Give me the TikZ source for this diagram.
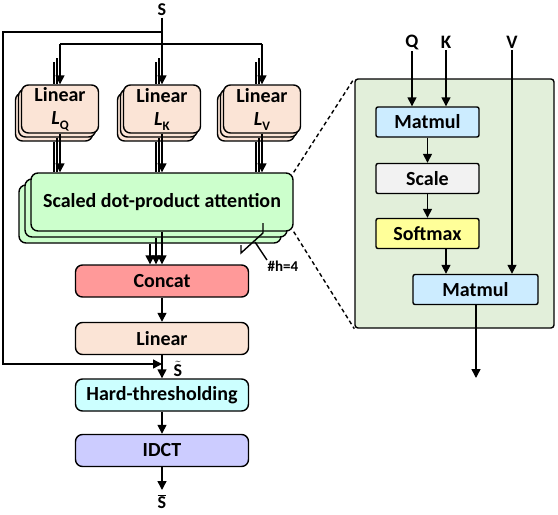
\documentclass[tikz,border=0pt]{standalone}
\usepackage{fontspec}
\setmainfont{Carlito}
\usetikzlibrary{positioning, calc, arrows.meta}

\definecolor{peach}{RGB}{251,228,214}
\definecolor{mint}{RGB}{204,255,204}
\definecolor{salmon}{RGB}{255,153,153}
\definecolor{aqua}{RGB}{204,255,255}
\definecolor{lilac}{RGB}{204,204,255}
\definecolor{sage}{RGB}{226,239,218}
\definecolor{skyblue}{RGB}{204,236,255}
\definecolor{paleg}{RGB}{242,242,242}
\definecolor{lemon}{RGB}{255,255,153}

\newcommand{\bigf}{\fontsize{20}{23}\selectfont\bfseries}
\newcommand{\lsub}[1]{\textit{L}\raisebox{-0.25em}{\fontsize{13}{13}\selectfont #1}}

\tikzset{
  box/.style={draw, rounded corners=7pt, minimum width=173pt, minimum height=32pt, inner sep=0pt, font=\bigf},
  linbox/.style={box, fill=peach, minimum width=77pt, minimum height=48pt, align=center},
  attbox/.style={box, fill=mint, minimum width=262pt, minimum height=58pt},
  opbox/.style={box, rounded corners=2pt, minimum width=103pt, minimum height=30pt},
  lbl/.style={font=\fontsize{18}{18}\selectfont\bfseries, inner sep=1pt},
}

\begin{document}
\begin{tikzpicture}[x=1pt, y=-1pt, line width=1.4pt, >={Triangle[length=9pt,width=9pt]}]
\useasboundingbox (0,0) rectangle (558,515);

% multi-head attention
\node (s) [lbl] at (162,10) {S};
\coordinate (sp) at (162,32);
\coordinate (br) at (162,44);
\coordinate (fb) at (3,364);

\foreach \n/\x/\c in {lq/60/Q, lk/162/K, lv/262/V} {
  \node (\n3) [linbox] at (\x-6,117) {};
  \node (\n2) [linbox] at (\x-3,113) {};
  \node (\n) [linbox] at (\x,109) {Linear\\\lsub{\c}};
}

\node (att3) [attbox] at (150,214) {};
\node (att2) [attbox] at (156,208) {};
\node (att) [attbox] at (162,202) {Scaled dot-product attention};

\node (concat) [box, fill=salmon] at (162,281) {Concat};
\node (lin) [box, fill=peach] at (162,338.5) {Linear};
\node (hard) [box, fill=aqua] at (162,395) {Hard-thresholding};
\node (idct) [box, fill=lilac] at (162,450.5) {IDCT};
\coordinate (out1) at (162,490);
\node (sbar) [lbl] at (162,502) {$\overline{\mbox{S}}$};
\node (stil) [lbl] at (178,369) {$\tilde{\mbox{S}}$};

\draw (s) -- (br);
\draw[->] (sp) -| (fb) -- (fb -| lin.south);
\draw (br -| lq.north) -- (br -| lv.north);
\foreach \n in {lq,lk,lv} {
  \draw[->] (br -| \n.north) -- (\n.north);
  \draw ($(\n2.north)+(0,-30)$) -- (\n2.north |- \n.north);
  \draw ($(\n3.north)+(0,-30)$) -- (\n3.north |- \n.north);
  \draw[->] (\n.south) -- (\n.south |- att.north);
  \draw (\n2.south) -- (\n2.south |- att.north);
  \draw (\n3.south) -- (\n3.south |- att.north);
}
\draw[->] (att.south) -- (att.south |- concat.north);
\draw[->] (att2.south) -- (att2.south |- concat.north);
\draw[->] (att3.south) -- (att3.south |- concat.north);
\draw[->] (concat) -- (lin);
\draw[->] (lin) -- (hard);
\draw[->] (hard) -- (idct);
\draw[->] (idct) -- (out1);

% number of heads
\node (nh) [font=\fontsize{15}{15}\selectfont\bfseries, inner sep=0pt] at (283,266) {\#h=4};
\coordinate (t1) at (263,223);
\coordinate (t2) at (263,233);
\coordinate (t3) at (241,253);
\coordinate (t4) at (241,245);
\coordinate (ld) at (255,242);
\draw (t1) -- (t2) -- (t3) -- (t4);
\draw (ld) -- (nh.north west);

% scaled dot-product attention
\node (sdpa) [draw, fill=sage, rounded corners=3pt, minimum width=199pt, minimum height=249pt] at (454.5,203.5) {};
\node (mm1) [opbox, fill=skyblue] at (427.5,122) {Matmul};
\node (scale) [opbox, fill=paleg] at (427.5,178.5) {Scale};
\node (smax) [opbox, fill=lemon] at (427.5,233.5) {Softmax};
\node (mm2) [opbox, fill=skyblue, minimum width=125pt] at (475.5,289.5) {Matmul};
\node (q) [lbl, font=\fontsize{19}{19}\selectfont\bfseries] at (412,42) {Q};
\node (k) [lbl, font=\fontsize{19}{19}\selectfont\bfseries] at (446,42) {K};
\node (v) [lbl, font=\fontsize{19}{19}\selectfont\bfseries] at (512,42) {V};
\coordinate (res) at (476,378);

\draw[->] (q) -- (q |- mm1.north);
\draw[->] (k) -- (k |- mm1.north);
\draw[->] (v) -- (v |- mm2.north);
\draw[->] (mm1) -- (scale);
\draw[->] (scale) -- (smax);
\draw[->] (k |- smax.south) -- (k |- mm2.north);
\draw[->] (mm2.south -| res) -- (res);

\draw[dashed, dash pattern=on 4pt off 3pt] (att.north east) -- (sdpa.north west);
\draw[dashed, dash pattern=on 4pt off 3pt] (att.south east) -- (sdpa.south west);
\end{tikzpicture}
\end{document}
